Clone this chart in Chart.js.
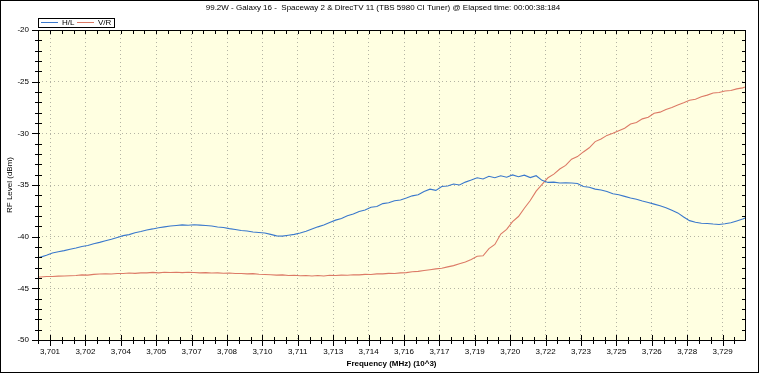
<!DOCTYPE html>
<html>
<head>
<meta charset="utf-8">
<script src="https://cdn.jsdelivr.net/npm/chart.js@4.4.1/dist/chart.umd.min.js"></script>
<style>
html, body { margin: 0; padding: 0; background: #fff; }
#wrap { width: 760px; height: 374px; }
</style>
</head>
<body>
<div id="wrap"><canvas id="canvas" width="760" height="374"></canvas></div>
<script>
'use strict';

var chartTitle = '99.2W - Galaxy 16 -  Spaceway 2 & DirecTV 11 (TBS 5980 CI Tuner) @ Elapsed time: 00:00:38:184';
var seriesNames = ['H/L', 'V/R'];

// frequency in MHz
var freqs = [
    3700.25, 3700.5, 3700.75,
    3701, 3701.25, 3701.5, 3701.75,
    3702, 3702.25, 3702.5, 3702.75,
    3703, 3703.25, 3703.5, 3703.75,
    3704, 3704.25, 3704.5, 3704.75,
    3705, 3705.25, 3705.5, 3705.75,
    3706, 3706.25, 3706.5, 3706.75,
    3707, 3707.25, 3707.5, 3707.75,
    3708, 3708.25, 3708.5, 3708.75,
    3709, 3709.25, 3709.5, 3709.75,
    3710, 3710.25, 3710.5, 3710.75,
    3711, 3711.25, 3711.5, 3711.75,
    3712, 3712.25, 3712.5, 3712.75,
    3713, 3713.25, 3713.5, 3713.75,
    3714, 3714.25, 3714.5, 3714.75,
    3715, 3715.25, 3715.5, 3715.75,
    3716, 3716.25, 3716.5, 3716.75,
    3717, 3717.25, 3717.5, 3717.75,
    3718, 3718.25, 3718.5, 3718.75,
    3719, 3719.25, 3719.5, 3719.75,
    3720, 3720.25, 3720.5, 3720.75,
    3721, 3721.25, 3721.5, 3721.75,
    3722, 3722.25, 3722.5, 3722.75,
    3723, 3723.25, 3723.5, 3723.75,
    3724, 3724.25, 3724.5, 3724.75,
    3725, 3725.25, 3725.5, 3725.75,
    3726, 3726.25, 3726.5, 3726.75,
    3727, 3727.25, 3727.5, 3727.75,
    3728, 3728.25, 3728.5, 3728.75,
    3729, 3729.25, 3729.5, 3729.75,
    3730, 3730.25, 3730.5
];

// RF level dBm, horizontal
var levelHL = [
    -42.15, -41.98, -41.80,
    -41.58, -41.46, -41.35, -41.22,
    -41.10, -40.95, -40.86, -40.68,
    -40.55, -40.40, -40.25, -40.08,
    -39.90, -39.80, -39.62, -39.50,
    -39.35, -39.25, -39.13, -39.05,
    -38.97, -38.92, -38.86, -38.90,
    -38.85, -38.88, -38.92, -38.97,
    -39.06, -39.12, -39.22, -39.30,
    -39.40, -39.45, -39.55, -39.60,
    -39.65, -39.78, -39.92, -39.95,
    -39.86, -39.78, -39.65, -39.48,
    -39.26, -39.05, -38.88, -38.62,
    -38.40, -38.25, -37.98, -37.80,
    -37.57, -37.42, -37.15, -37.08,
    -36.80, -36.72, -36.52, -36.45,
    -36.26, -36.05, -35.95, -35.62,
    -35.40, -35.52, -35.15, -35.10,
    -34.90, -35.00, -34.72, -34.52,
    -34.30, -34.42, -34.15, -34.30,
    -34.10, -34.25, -34.02, -34.20,
    -34.05, -34.28, -34.10, -34.55,
    -34.75, -34.72, -34.80, -34.78,
    -34.80, -34.85, -35.15, -35.22,
    -35.40, -35.48, -35.62, -35.85,
    -35.95, -36.10, -36.25, -36.38,
    -36.55, -36.70, -36.85, -37.00,
    -37.20, -37.45, -37.70, -38.10,
    -38.45, -38.60, -38.70, -38.72,
    -38.78, -38.82, -38.75, -38.65,
    -38.48, -38.30, -38.05
];

// RF level dBm, vertical
var levelVR = [
    -43.92, -43.90, -43.86,
    -43.85, -43.82, -43.80, -43.78,
    -43.76, -43.70, -43.72, -43.65,
    -43.62, -43.60, -43.62, -43.56,
    -43.56, -43.52, -43.55, -43.50,
    -43.50, -43.46, -43.50, -43.45,
    -43.47, -43.44, -43.48, -43.45,
    -43.47, -43.50, -43.48, -43.52,
    -43.50, -43.54, -43.52, -43.56,
    -43.56, -43.60, -43.58, -43.64,
    -43.66, -43.68, -43.72, -43.70,
    -43.76, -43.74, -43.78, -43.76,
    -43.80, -43.76, -43.80, -43.74,
    -43.76, -43.72, -43.74, -43.68,
    -43.70, -43.65, -43.66, -43.60,
    -43.60, -43.55, -43.56, -43.50,
    -43.48, -43.40, -43.36, -43.28,
    -43.20, -43.12, -43.05, -42.92,
    -42.80, -42.62, -42.45, -42.20,
    -41.90, -41.85, -41.15, -40.75,
    -39.75, -39.30, -38.55, -38.05,
    -37.25, -36.50, -35.60, -34.95,
    -34.30, -33.95, -33.45, -33.10,
    -32.50, -32.25, -31.80, -31.40,
    -30.80, -30.55, -30.20, -30.00,
    -29.75, -29.50, -29.10, -28.95,
    -28.60, -28.45, -28.05, -27.95,
    -27.70, -27.50, -27.25, -27.05,
    -26.80, -26.70, -26.45, -26.30,
    -26.10, -26.05, -25.90, -25.85,
    -25.70, -25.60, -25.40
];

var xTickValues = [3700.9, 3702.4, 3703.9, 3705.4, 3706.9, 3708.4, 3709.9, 3711.4, 3712.9, 3714.4,
    3715.9, 3717.4, 3718.9, 3720.4, 3721.9, 3723.4, 3724.9, 3726.4, 3727.9, 3729.4];
var xTickLabels = ['3,701', '3,702', '3,704', '3,705', '3,707', '3,708', '3,710', '3,711', '3,713', '3,714',
    '3,716', '3,717', '3,719', '3,720', '3,722', '3,723', '3,725', '3,726', '3,728', '3,729'];

var FONT = "'Liberation Sans Narrow', 'Liberation Sans', Arial, sans-serif";

function points(ys) {
    return freqs.map(function (f, i) { return { x: f, y: ys[i] }; });
}

// background, frame, tick marks, title and legend box
var framePlugin = {
    id: 'frame',
    beforeDraw: function (chart) {
        var ctx = chart.ctx, a = chart.chartArea;
        ctx.save();
        ctx.fillStyle = '#ffffff';
        ctx.fillRect(0, 0, chart.width, chart.height);
        ctx.fillStyle = '#ffffe1';
        ctx.fillRect(a.left, a.top, a.right - a.left, a.bottom - a.top);
        ctx.restore();
    },
    afterDraw: function (chart) {
        var ctx = chart.ctx, a = chart.chartArea;
        var xs = chart.scales.x, ys = chart.scales.y;
        ctx.save();
        ctx.strokeStyle = '#000';
        ctx.lineWidth = 1;
        ctx.strokeRect(a.left + 0.5, a.top + 0.5, a.right - a.left, a.bottom - a.top);

        ctx.beginPath();
        // x ticks every 0.5, majors on the labelled ones
        for (var v = 3700.4; v <= 3730.41; v += 0.5) {
            var px = Math.round(xs.getPixelForValue(v)) + 0.5;
            if (px < a.left || px > a.right + 1) continue;
            var major = xTickValues.some(function (t) { return Math.abs(t - v) < 0.01; });
            var d = major ? 5 : 3;
            ctx.moveTo(px, a.bottom - d); ctx.lineTo(px, a.bottom + d + 1);
            ctx.moveTo(px, a.top); ctx.lineTo(px, a.top + 4);
        }
        // y ticks every 1 dB
        for (var y = -50; y <= -20; y++) {
            var py = Math.round(ys.getPixelForValue(y)) + 0.5;
            if (y % 5 === 0) {
                ctx.moveTo(a.left - 6, py); ctx.lineTo(a.left + 2, py);
            } else {
                ctx.moveTo(a.left - 3, py); ctx.lineTo(a.left + 4, py);
            }
            ctx.moveTo(a.right - 3, py); ctx.lineTo(a.right + 1, py);
        }
        ctx.stroke();

        // outer border
        ctx.strokeRect(0.5, 0.5, chart.width - 2, chart.height - 2);

        // title
        ctx.fillStyle = '#000';
        ctx.font = "8px 'Liberation Sans', Arial, sans-serif";
        ctx.textAlign = 'center';
        ctx.textBaseline = 'middle';
        ctx.fillText(chartTitle, 383, 8);

        // legend
        ctx.strokeRect(38.5, 18.5, 76, 9);
        ctx.textAlign = 'left';
        var lx = 41;
        chart.data.datasets.forEach(function (ds) {
            ctx.strokeStyle = ds.borderColor;
            ctx.beginPath();
            ctx.moveTo(lx, 22.5); ctx.lineTo(lx + 17, 22.5);
            ctx.stroke();
            ctx.fillStyle = '#000';
            ctx.fillText(ds.label, lx + 21, 23);
            lx += 36;
        });
        ctx.restore();
    }
};

Chart.defaults.font.family = FONT;
Chart.defaults.font.size = 8;
Chart.defaults.color = '#000';

var ctx = document.getElementById('canvas').getContext('2d');
var myChart = new Chart(ctx, {
    type: 'line',
    data: {
        datasets: [{
            label: seriesNames[0],
            data: points(levelHL),
            borderColor: '#3a78cc',
            borderWidth: 1.1,
            pointRadius: 0,
            tension: 0
        }, {
            label: seriesNames[1],
            data: points(levelVR),
            borderColor: '#dc7a66',
            borderWidth: 1.1,
            pointRadius: 0,
            tension: 0
        }]
    },
    options: {
        responsive: false,
        animation: false,
        devicePixelRatio: 1,
        layout: { padding: { top: 30, right: 15, left: 0, bottom: 0 } },
        plugins: {
            legend: { display: false },
            title: { display: false },
            tooltip: { enabled: false }
        },
        scales: {
            x: {
                type: 'linear',
                min: 3700.39,
                max: 3730.35,
                afterBuildTicks: function (scale) {
                    scale.ticks = xTickValues.map(function (v) { return { value: v }; });
                },
                afterFit: function (scale) { scale.height = 34; },
                ticks: {
                    autoSkip: false,
                    maxRotation: 0,
                    padding: 7,
                    callback: function (value, index) { return xTickLabels[index]; }
                },
                grid: { color: '#b4b4a4', drawTicks: false },
                border: { display: false, dash: [1, 3] },
                title: {
                    display: true,
                    text: 'Frequency (MHz) (10^3)',
                    font: { family: "'Liberation Sans', Arial, sans-serif", size: 8, weight: 'bold' },
                    padding: { top: 0, bottom: 5 }
                }
            },
            y: {
                min: -50,
                max: -20,
                afterFit: function (scale) { scale.width = 38; },
                ticks: { stepSize: 5, padding: 9 },
                grid: { color: '#b4b4a4', drawTicks: false },
                border: { display: false, dash: [1, 3] },
                title: {
                    display: true,
                    text: 'RF Level (dBm)',
                    font: { family: "'Liberation Sans', Arial, sans-serif", size: 8 },
                    padding: { top: 5, bottom: 0 }
                }
            }
        }
    },
    plugins: [framePlugin]
});
</script>
</body>
</html>
